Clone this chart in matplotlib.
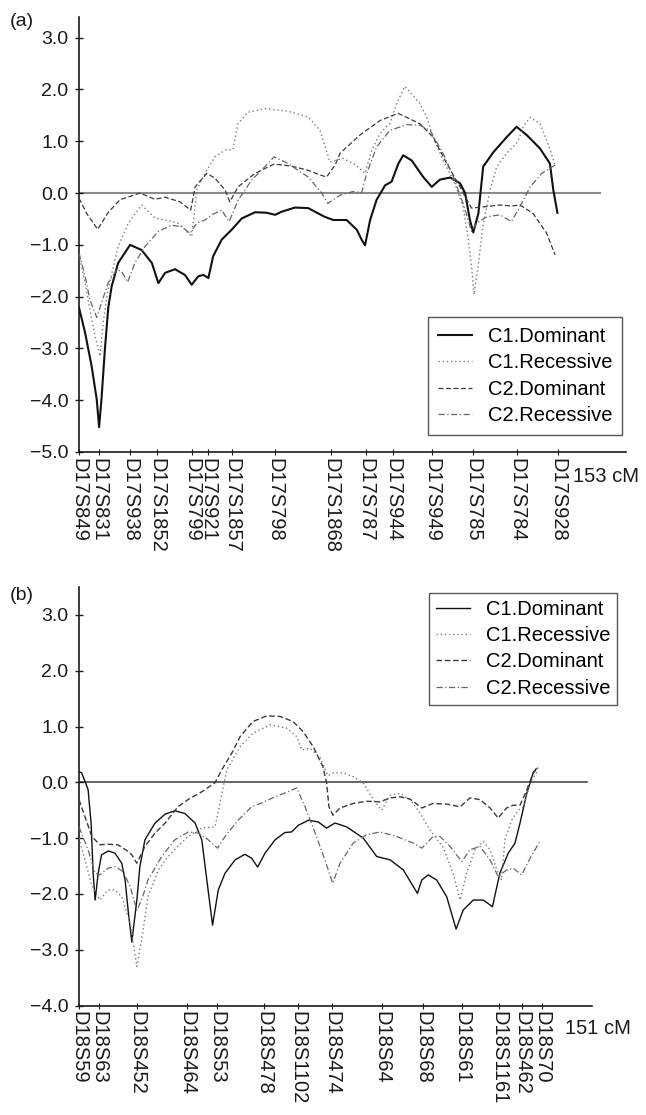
import matplotlib
matplotlib.use("Agg")
import matplotlib.pyplot as plt
import numpy as np
from matplotlib.ticker import FuncFormatter

plt.rcParams['font.family'] = ['Liberation Sans', 'DejaVu Sans']

# ---------------- Panel (a): chromosome 17 ----------------
a_markers = ['D17S849', 'D17S831', 'D17S938', 'D17S1852', 'D17S799', 'D17S921',
             'D17S1857', 'D17S798', 'D17S1868', 'D17S787', 'D17S944', 'D17S949',
             'D17S785', 'D17S784', 'D17S928']
a_marker_cm = [0, 5.9, 15.0, 22.9, 33.2, 37.9, 44.9, 57.6, 74.0, 84.3, 92.2,
               103.7, 115.7, 128.6, 140.7]
a_length_cm = 153

a_c1dom_x = [0, 1.8, 3.7, 5.2, 5.9, 6.6, 7.6, 8.6, 9.6, 11.5, 15.0, 18.4, 21.4, 23.3,
             25.3, 28.2, 31.1, 33.1, 35.0, 36.5, 38.0, 39.4, 41.9, 44.8, 47.8, 51.7,
             55.1, 57.6, 59.5, 63.4, 67.3, 72.2, 74.7, 78.6, 81.6, 83.0, 84.0, 85.5,
             87.4, 89.9, 91.8, 93.8, 95.2, 97.7, 101.1, 103.6, 106.0, 109.0, 111.9,
             113.4, 114.8, 115.8, 117.3, 118.7, 121.7, 125.6, 128.5, 131.5, 135.4,
             138.3, 139.3, 140.5]
a_c1dom_y = [-2.21, -2.70, -3.34, -3.98, -4.52, -3.98, -3.02, -2.21, -1.80, -1.35,
             -1.00, -1.10, -1.35, -1.74, -1.54, -1.47, -1.58, -1.77, -1.61, -1.58,
             -1.64, -1.22, -0.90, -0.71, -0.49, -0.37, -0.38, -0.42, -0.36, -0.28,
             -0.29, -0.46, -0.52, -0.52, -0.71, -0.90, -1.01, -0.52, -0.13, 0.15,
             0.22, 0.57, 0.73, 0.63, 0.31, 0.12, 0.26, 0.30, 0.19, 0.00, -0.52,
             -0.76, -0.39, 0.51, 0.79, 1.08, 1.28, 1.12, 0.86, 0.57, 0.06, -0.38]

a_c1rec_x = [0, 1.8, 3.2, 4.7, 6.2, 7.1, 8.5, 11.5, 14.5, 18.4, 22.3, 25.3, 29.1,
             33.1, 34.6, 37.0, 39.9, 42.9, 45.2, 46.7, 49.6, 54.6, 61.4, 67.3, 70.8,
             73.7, 77.5, 81.1, 84.0, 86.0, 88.4, 91.3, 93.3, 95.7, 100.1, 102.1,
             104.0, 106.9, 110.0, 112.8, 114.2, 115.3, 116.0, 117.2, 118.6, 120.7,
             122.7, 125.6, 128.9, 130.4, 132.5, 135.4, 138.3, 139.8]
a_c1rec_y = [-1.20, -1.73, -2.25, -2.76, -3.15, -2.50, -1.87, -1.03, -0.58, -0.23,
             -0.48, -0.52, -0.58, -0.84, 0.06, 0.38, 0.70, 0.83, 0.84, 1.34, 1.56,
             1.63, 1.58, 1.47, 1.21, 0.60, 0.67, 0.55, 0.38, 0.83, 1.15, 1.35, 1.73,
             2.06, 1.73, 1.47, 1.08, 0.63, 0.25, -0.26, -0.84, -1.42, -1.96, -1.42,
             -0.65, 0.06, 0.51, 0.77, 0.99, 1.28, 1.46, 1.34, 0.85, 0.54]

a_c2dom_x = [0, 2.3, 5.5, 8.5, 12.0, 17.9, 22.3, 25.3, 29.7, 32.8, 34.1, 37.5, 39.9,
             42.9, 44.3, 46.7, 51.7, 57.3, 62.5, 67.3, 70.8, 72.7, 75.2, 76.7, 82.5,
             88.4, 93.7, 100.1, 104.0, 108.0, 111.9, 113.9, 115.3, 119.7, 123.6,
             127.0, 129.5, 133.3, 137.3, 139.8]
a_c2dom_y = [-0.10, -0.40, -0.70, -0.38, -0.13, 0.00, -0.12, -0.08, -0.17, -0.33,
             0.12, 0.38, 0.29, 0.06, -0.17, 0.12, 0.38, 0.56, 0.52, 0.44, 0.35, 0.31,
             0.54, 0.77, 1.12, 1.40, 1.54, 1.34, 1.08, 0.57, 0.12, -0.13, -0.29,
             -0.26, -0.23, -0.25, -0.23, -0.39, -0.77, -1.19]

a_c2rec_x = [0, 1.8, 3.2, 5.2, 8.6, 11.1, 12.5, 14.3, 16.4, 19.4, 23.3, 27.2, 30.2,
             32.6, 34.6, 37.0, 39.0, 41.9, 44.1, 46.8, 50.7, 54.6, 57.3, 61.4, 67.3,
             71.3, 73.1, 76.7, 80.5, 83.0, 84.5, 87.4, 91.3, 96.2, 100.1, 103.1,
             106.9, 110.0, 112.8, 115.3, 116.8, 119.7, 123.6, 127.0, 129.5, 132.5,
             135.9, 139.8]
a_c2rec_y = [-1.15, -1.61, -2.06, -2.40, -1.73, -1.48, -1.51, -1.72, -1.35, -1.03,
             -0.74, -0.62, -0.65, -0.78, -0.58, -0.52, -0.42, -0.33, -0.55, -0.13,
             0.25, 0.51, 0.70, 0.57, 0.31, 0.00, -0.20, -0.04, 0.03, 0.01, 0.38, 0.89,
             1.21, 1.32, 1.31, 1.21, 0.77, 0.31, -0.20, -0.74, -0.58, -0.46, -0.42,
             -0.55, -0.26, 0.12, 0.38, 0.54]

# ---------------- Panel (b): chromosome 18 ----------------
b_markers = ['D18S59', 'D18S63', 'D18S452', 'D18S464', 'D18S53', 'D18S478',
             'D18S1102', 'D18S474', 'D18S64', 'D18S68', 'D18S61', 'D18S1161',
             'D18S462', 'D18S70']
b_marker_cm = [0, 5.9, 17.2, 32.1, 41.0, 55.0, 65.1, 75.2, 90.1, 102.3, 113.9,
               124.9, 131.7, 137.6]
b_length_cm = 151

b_c1dom_x = [0, 0.8, 2.7, 3.6, 4.2, 4.8, 5.7, 6.7, 8.7, 10.7, 12.7, 13.7, 14.7, 15.7,
             17.2, 18.1, 19.6, 22.6, 25.6, 28.5, 31.5, 34.5, 36.5, 38.0, 39.7, 41.4,
             43.4, 46.4, 49.3, 51.3, 53.1, 55.3, 58.3, 61.2, 63.2, 65.2, 68.2, 71.1,
             73.6, 76.1, 79.6, 84.5, 88.5, 92.5, 96.4, 99.4, 100.6, 101.9, 103.8,
             106.3, 109.3, 112.1, 114.2, 117.2, 120.2, 122.9, 125.1, 127.6, 129.6,
             131.1, 133.1, 135.0, 135.9]
b_c1dom_y = [0.19, 0.17, -0.13, -0.73, -1.63, -2.11, -1.63, -1.30, -1.23, -1.27,
             -1.45, -1.75, -2.35, -2.86, -2.11, -1.51, -1.03, -0.73, -0.57, -0.51,
             -0.56, -0.73, -1.03, -1.75, -2.56, -1.93, -1.63, -1.39, -1.29, -1.36,
             -1.52, -1.27, -1.03, -0.90, -0.89, -0.77, -0.68, -0.71, -0.82, -0.73,
             -0.80, -1.00, -1.33, -1.39, -1.57, -1.87, -1.99, -1.75, -1.66, -1.75,
             -2.05, -2.63, -2.29, -2.11, -2.11, -2.23, -1.63, -1.27, -1.09, -0.73,
             -0.20, 0.17, 0.24]

b_c1rec_x = [0, 1.8, 3.8, 6.2, 8.6, 10.7, 12.7, 15.2, 17.2, 18.6, 20.5, 23.6, 26.5,
             29.4, 32.4, 36.5, 40.4, 41.9, 43.9, 47.9, 51.7, 56.8, 61.7, 64.7, 66.2,
             68.7, 71.6, 74.0, 75.6, 78.6, 81.5, 84.5, 87.5, 90.0, 92.5, 95.4, 98.4,
             101.4, 104.3, 108.2, 111.2, 113.3, 115.2, 117.7, 120.2, 122.2, 124.2,
             125.6, 126.6, 128.6, 130.6, 132.1, 134.1, 136.5]
b_c1rec_y = [-1.00, -1.40, -1.85, -2.11, -1.93, -1.93, -2.05, -2.52, -3.30, -2.83,
             -2.05, -1.57, -1.33, -1.15, -0.97, -0.82, -0.80, -0.38, 0.22, 0.64, 0.88,
             1.03, 0.97, 0.82, 0.58, 0.61, 0.45, 0.12, 0.17, 0.17, 0.10, -0.01,
             -0.31, -0.50, -0.23, -0.20, -0.31, -0.55, -0.85, -1.16, -1.63, -2.11,
             -1.63, -1.21, -1.06, -1.21, -1.57, -1.75, -1.03, -0.68, -0.50, -0.44,
             -0.01, 0.22]

b_c2dom_x = [0, 1.8, 3.8, 6.2, 8.6, 11.6, 14.6, 15.7, 17.2, 19.6, 22.6, 25.6, 29.4,
             32.4, 36.5, 40.4, 42.4, 45.4, 47.9, 51.7, 55.8, 59.8, 63.6, 66.6, 69.6,
             72.5, 73.6, 74.3, 75.5, 77.6, 81.5, 85.5, 89.5, 92.5, 95.4, 98.4, 101.9,
             105.2, 109.3, 113.3, 116.2, 119.2, 122.2, 124.6, 127.1, 129.1, 131.1,
             133.1, 135.0, 136.5]
b_c2dom_y = [-0.31, -0.62, -0.97, -1.12, -1.11, -1.12, -1.24, -1.30, -1.45, -1.15,
             -0.91, -0.73, -0.44, -0.31, -0.17, -0.01, 0.22, 0.52, 0.82, 1.09, 1.19,
             1.18, 1.09, 0.91, 0.64, 0.28, -0.01, -0.44, -0.59, -0.46, -0.38, -0.34,
             -0.35, -0.28, -0.26, -0.30, -0.46, -0.38, -0.39, -0.44, -0.28, -0.31,
             -0.46, -0.64, -0.46, -0.41, -0.41, -0.14, 0.17, 0.26]

b_c2rec_x = [0, 2.7, 4.8, 6.2, 8.6, 10.7, 13.1, 15.2, 17.2, 18.6, 20.5, 24.6, 28.5,
             32.5, 35.5, 38.4, 41.2, 43.4, 47.3, 51.3, 54.3, 58.3, 62.1, 64.7, 67.2,
             70.2, 73.1, 75.4, 77.6, 81.5, 85.5, 89.5, 94.4, 99.4, 101.9, 105.3,
             107.3, 110.3, 113.8, 116.2, 119.2, 122.2, 124.6, 127.1, 129.1, 131.6,
             134.1, 137.0]
b_c2rec_y = [-0.80, -1.21, -1.63, -1.66, -1.54, -1.51, -1.60, -1.87, -2.29, -2.11,
             -1.75, -1.33, -1.03, -0.89, -0.91, -1.03, -1.18, -0.97, -0.68, -0.44,
             -0.37, -0.26, -0.17, -0.10, -0.44, -0.91, -1.39, -1.81, -1.45, -1.09,
             -0.94, -0.89, -0.97, -1.09, -1.18, -0.97, -0.97, -1.15, -1.42, -1.21,
             -1.15, -1.39, -1.69, -1.57, -1.54, -1.66, -1.36, -1.06]

series_labels = ['C1.Dominant', 'C1.Recessive', 'C2.Dominant', 'C2.Recessive']
a_yticks = [-5.0, -4.0, -3.0, -2.0, -1.0, 0.0, 1.0, 2.0, 3.0]
b_yticks = [-4.0, -3.0, -2.0, -1.0, 0.0, 1.0, 2.0, 3.0]

# ---------------- drawing ----------------
W, H = 646, 1115
fig = plt.figure(figsize=(W / 100, H / 100), dpi=100)

def px_axes(x0, x1, ytop, ybot):
    return fig.add_axes([x0 / W, 1 - ybot / H, (x1 - x0) / W, (ybot - ytop) / H])

ax_a = px_axes(79, 626, 17, 452)
ax_b = px_axes(79, 592, 587, 1005.5)

fmt = FuncFormatter(lambda v, p: f"{v:.1f}".replace('-', '\u2212'))

styles = [
    dict(color='#111111', linestyle='-'),
    dict(color='#7a7a7a', linestyle=(0, (1, 2))),
    dict(color='#3a3a3a', linestyle=(0, (4, 2))),
    dict(color='#666666', linestyle=(0, (5, 2, 1, 2))),
]

def setup(ax, xmax, ylim, yticks, markers, marker_cm, length_cm, zero_color, zero_lw):
    ax.set_xlim(0, xmax)
    ax.set_ylim(*ylim)
    for s in ['top', 'right']:
        ax.spines[s].set_visible(False)
    for s in ['left', 'bottom']:
        ax.spines[s].set_linewidth(1.2)
        ax.spines[s].set_color('#1a1a1a')
    ax.set_yticks(yticks)
    ax.yaxis.set_major_formatter(fmt)
    ax.set_xticks(marker_cm)
    ax.set_xticklabels(markers, rotation=270, ha='center', va='top')
    ax.tick_params(axis='y', direction='inout', length=6, width=1.0, pad=4.5,
                   labelsize=14, colors='#1a1a1a')
    ax.tick_params(axis='x', direction='inout', length=5, width=0.8, pad=1.5,
                   labelsize=14.5, colors='#1a1a1a')
    ax.plot([0, length_cm], [0, 0], color=zero_color, lw=zero_lw, zorder=1)

setup(ax_a, 547 / 3.405, (-5.0, 3.4), a_yticks, a_markers, a_marker_cm, a_length_cm,
      '#8a8a8a', 1.5)
setup(ax_b, 513 / 3.364, (-4.0, 3.5), b_yticks, b_markers, b_marker_cm, b_length_cm,
      '#3a3a3a', 1.1)

a_series = [(a_c1dom_x, a_c1dom_y), (a_c1rec_x, a_c1rec_y),
            (a_c2dom_x, a_c2dom_y), (a_c2rec_x, a_c2rec_y)]
b_series = [(b_c1dom_x, b_c1dom_y), (b_c1rec_x, b_c1rec_y),
            (b_c2dom_x, b_c2dom_y), (b_c2rec_x, b_c2rec_y)]

a_widths = [1.5, 1.0, 0.9, 0.9]
b_widths = [1.0, 1.0, 1.0, 0.9]

for (x, y), st, lw, lab in zip(a_series, styles, a_widths, series_labels):
    ax_a.plot(x, y, lw=lw, label=lab, zorder=3, **st)
for (x, y), st, lw, lab in zip(b_series, styles, b_widths, series_labels):
    ax_b.plot(x, y, lw=lw, label=lab, zorder=3, **st)

leg_kw = dict(fontsize=14.5, frameon=True, fancybox=False, handlelength=1.7,
              handletextpad=0.75, labelspacing=0.36, borderaxespad=0,
              edgecolor='#555555', framealpha=1)
la = ax_a.legend(loc='upper right', bbox_to_anchor=(0.993, 0.310),
                 borderpad=0.5, **leg_kw)
la.get_frame().set_linewidth(1.0)
lb = ax_b.legend(loc='upper right', bbox_to_anchor=(1.049, 0.986),
                 borderpad=0.35, **leg_kw)
lb.get_frame().set_linewidth(1.0)

ax_a.text(0.903, -0.057, f'{a_length_cm} cM', transform=ax_a.transAxes,
          fontsize=14.5, ha='left', va='center', color='#1a1a1a')
ax_b.text(0.947, -0.054, f'{b_length_cm} cM', transform=ax_b.transAxes,
          fontsize=14.5, ha='left', va='center', color='#1a1a1a')

fig.text(10 / W, 1 - 22 / H, '(a)', fontsize=14, ha='left', va='center', color='#1a1a1a')
fig.text(10 / W, 1 - 595 / H, '(b)', fontsize=14, ha='left', va='center', color='#1a1a1a')

fig.savefig('out.png', dpi=100)
